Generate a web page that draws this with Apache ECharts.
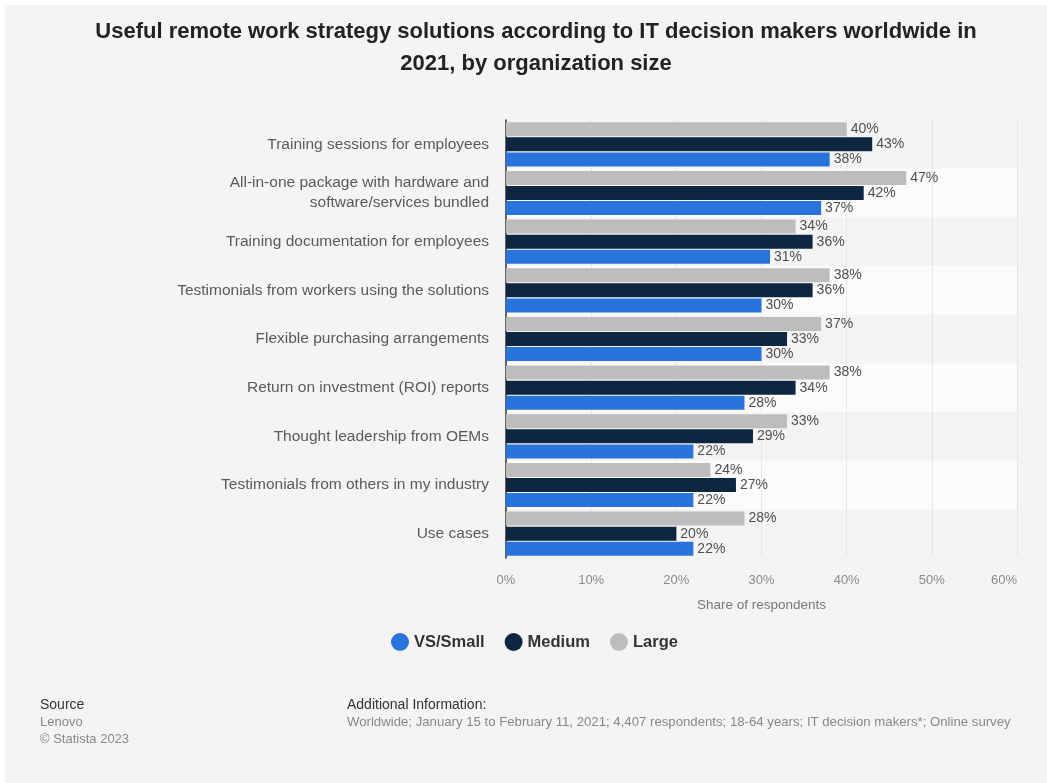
<!DOCTYPE html>
<html>
<head>
<meta charset="utf-8">
<title>Useful remote work strategy solutions by organization size</title>
<script src="https://cdn.jsdelivr.net/npm/echarts@6/dist/echarts.min.js"></script>
<style>
  html, body { margin: 0; padding: 0; background: #ffffff; }
  #chart { width: 1047px; height: 783px; }
</style>
</head>
<body>
<div id="chart"></div>
<script>
// Categories, top to bottom
const categories = [
  'Training sessions for employees',
  'All-in-one package with hardware and\nsoftware/services bundled',
  'Training documentation for employees',
  'Testimonials from workers using the solutions',
  'Flexible purchasing arrangements',
  'Return on investment (ROI) reports',
  'Thought leadership from OEMs',
  'Testimonials from others in my industry',
  'Use cases'
];

// Share of respondents (%) by organization size
const largeValues  = [40, 47, 34, 38, 37, 38, 33, 24, 28];
const mediumValues = [43, 42, 36, 36, 33, 34, 29, 27, 20];
const smallValues  = [38, 37, 31, 30, 30, 28, 22, 22, 22];

const xTicks = [0, 10, 20, 30, 40, 50, 60];

const seriesNames = ['VS/Small', 'Medium', 'Large'];
const colors = { 'VS/Small': '#2874dc', 'Medium': '#0f2640', 'Large': '#bdbdbd' };

const FONT = 'Liberation Sans, Arial, sans-serif';

const chart = echarts.init(document.getElementById('chart'), null, { renderer: 'canvas' });

function barSeries(name, values) {
  return {
    name: name,
    type: 'bar',
    data: values,
    barWidth: 14,
    barGap: '8%',
    itemStyle: { color: colors[name] },
    label: {
      show: true,
      position: 'right',
      distance: 4,
      formatter: p => p.value + '%',
      color: '#4f4f4f',
      fontSize: 14,
      fontFamily: FONT
    }
  };
}

const option = {
  backgroundColor: '#f4f4f4',
  animation: false,
  title: {
    text: 'Useful remote work strategy solutions according to IT decision makers worldwide in\n2021, by organization size',
    left: 531,
    textAlign: 'center',
    top: 11,
    textStyle: {
      fontFamily: FONT,
      fontWeight: 'bold',
      fontSize: 22,
      lineHeight: 32,
      color: '#222222'
    }
  },
  legend: {
    data: seriesNames,
    top: 628,
    left: 386,
    icon: 'circle',
    itemWidth: 18,
    itemHeight: 18,
    itemGap: 20,
    textStyle: {
      fontFamily: FONT,
      fontWeight: 'bold',
      fontSize: 16.5,
      color: '#333333'
    }
  },
  grid: { left: 506, right: 30, top: 120, bottom: 225, containLabel: false },
  xAxis: {
    type: 'value',
    min: xTicks[0],
    max: xTicks[xTicks.length - 1],
    interval: 10,
    name: 'Share of respondents',
    nameLocation: 'middle',
    nameGap: 40,
    nameTextStyle: { color: '#777777', fontSize: 13.5, fontFamily: FONT },
    axisLine: { show: false },
    axisTick: { show: false },
    axisLabel: {
      formatter: v => v + '%',
      color: '#8a8a8a',
      fontSize: 13,
      margin: 16,
      alignMaxLabel: 'right',
      fontFamily: FONT
    },
    splitLine: { show: true, lineStyle: { color: '#d8d8d8', type: 'dotted', width: 1 } }
  },
  yAxis: {
    type: 'category',
    data: categories,
    inverse: true,
    axisLine: { show: true, lineStyle: { color: '#333333', width: 1.5 } },
    axisTick: { show: false },
    axisLabel: {
      color: '#5a5a5a',
      fontSize: 15.5,
      lineHeight: 20,
      margin: 17,
      fontFamily: FONT
    },
    splitArea: { show: true, areaStyle: { color: ['rgba(0,0,0,0)', '#fbfbfb'] } }
  },
  series: [
    barSeries('Large', largeValues),
    barSeries('Medium', mediumValues),
    barSeries('VS/Small', smallValues)
  ],
  graphic: [
    { type: 'rect', shape: { x: 0, y: 0, width: 1047, height: 5 }, style: { fill: '#ffffff' }, silent: true },
    { type: 'rect', shape: { x: 0, y: 0, width: 5, height: 783 }, style: { fill: '#ffffff' }, silent: true },
    { type: 'text', left: 40, top: 698, style: { text: 'Source', fill: '#333333', font: '14px "Liberation Sans", Arial, sans-serif' } },
    { type: 'text', left: 40, top: 716, style: { text: 'Lenovo', fill: '#888888', font: '13px "Liberation Sans", Arial, sans-serif' } },
    { type: 'text', left: 40, top: 733, style: { text: '© Statista 2023', fill: '#888888', font: '13px "Liberation Sans", Arial, sans-serif' } },
    { type: 'text', left: 347, top: 698, style: { text: 'Additional Information:', fill: '#333333', font: '14px "Liberation Sans", Arial, sans-serif' } },
    { type: 'text', left: 347, top: 716, style: { text: 'Worldwide; January 15 to February 11, 2021; 4,407 respondents; 18-64 years; IT decision makers*; Online survey', fill: '#888888', font: '13.2px "Liberation Sans", Arial, sans-serif' } }
  ]
};

chart.setOption(option);
</script>
</body>
</html>
